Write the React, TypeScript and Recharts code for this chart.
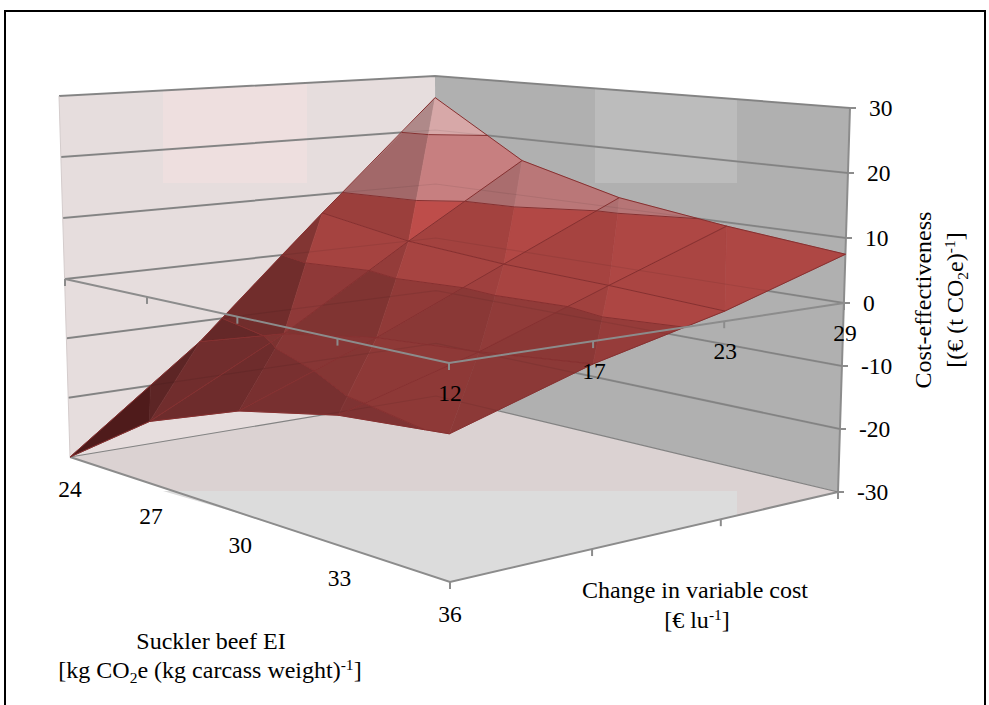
import React from 'react';
import { ScatterChart, Scatter, XAxis, YAxis } from 'recharts';

const eiTicks = [24, 27, 30, 33, 36];
const costTicks = [12, 17, 23, 29];
const zTicks = [30, 20, 10, 0, -10, -20, -30];

// cost-effectiveness per EI tick, one list per change in variable cost
const ceAtCost12 = [-30, -20, -14.4, -11.1, -9.7];
const ceAtCost17 = [-13.6, -8.9, -6.2, -5, -3.3];
const ceAtCost23 = [6.7, 4.2, 3, 2.4, 1.5];
const ceAtCost29 = [26, 16.2, 11.8, 9.4, 7.5];
const ceRows = [ceAtCost12, ceAtCost17, ceAtCost23, ceAtCost29];

const bandEdges = [-30, -20, -10, 0, 10, 20, 30];
const bandColors = [
  [118, 40, 40],
  [138, 55, 55],
  [154, 62, 60],
  [178, 72, 69],
  [186, 119, 120],
  [201, 157, 157],
];

type Pt = { x: number; y: number };
type V3 = { u: number; v: number; z: number };

// walls of the box on screen, corners in order left, front, right, back
const planeTop: Pt[] = [{ x: 59, y: 96 }, { x: 450, y: 145 }, { x: 850, y: 108 }, { x: 435, y: 76 }];
const planeZero: Pt[] = [{ x: 65, y: 279 }, { x: 449, y: 363 }, { x: 844, y: 303 }, { x: 436, y: 238 }];
const planeBottom: Pt[] = [{ x: 70, y: 457 }, { x: 450, y: 582 }, { x: 838, y: 492 }, { x: 436, y: 396 }];

const homography = (q: Pt[]) => {
  const dx1 = q[1].x - q[2].x, dx2 = q[3].x - q[2].x, dx3 = q[0].x - q[1].x + q[2].x - q[3].x;
  const dy1 = q[1].y - q[2].y, dy2 = q[3].y - q[2].y, dy3 = q[0].y - q[1].y + q[2].y - q[3].y;
  const den = dx1 * dy2 - dx2 * dy1;
  const g = (dx3 * dy2 - dx2 * dy3) / den;
  const h = (dx1 * dy3 - dx3 * dy1) / den;
  const a = q[1].x - q[0].x + g * q[1].x, b = q[3].x - q[0].x + h * q[3].x;
  const d = q[1].y - q[0].y + g * q[1].y, e = q[3].y - q[0].y + h * q[3].y;
  return (u: number, v: number): Pt => {
    const w = g * u + h * v + 1;
    return { x: (a * u + b * v + q[0].x) / w, y: (d * u + e * v + q[0].y) / w };
  };
};

const topAt = homography(planeTop);
const zeroAt = homography(planeZero);
const bottomAt = homography(planeBottom);

// u runs along the EI ticks, v along the cost ticks (both in tick steps)
const project = (u: number, v: number, z: number): Pt => {
  const uu = u / (eiTicks.length - 1);
  const vv = v / (costTicks.length - 1);
  const p0 = zeroAt(uu, vv);
  const p1 = z >= 0 ? topAt(uu, vv) : bottomAt(uu, vv);
  const t = Math.abs(z) / 30;
  return { x: p0.x + (p1.x - p0.x) * t, y: p0.y + (p1.y - p0.y) * t };
};

const mix = (a: V3, b: V3, t: number): V3 => ({
  u: a.u + (b.u - a.u) * t,
  v: a.v + (b.v - a.v) * t,
  z: a.z + (b.z - a.z) * t,
});

const clipAbove = (poly: V3[], level: number, keepAbove: boolean) => {
  const out: V3[] = [];
  poly.forEach((a, i) => {
    const b = poly[(i + 1) % poly.length];
    const aIn = keepAbove ? a.z >= level : a.z <= level;
    const bIn = keepAbove ? b.z >= level : b.z <= level;
    if (aIn) out.push(a);
    if (aIn !== bIn) out.push(mix(a, b, (level - a.z) / (b.z - a.z)));
  });
  return out;
};

const surfaceFacets: { pts: Pt[]; fill: string }[] = [];
const contourSegments: Pt[][] = [];

const vert = (i: number, j: number): V3 => ({ u: i, v: j, z: ceRows[j][i] });

const addTriangle = (tri: V3[], du: number, dv: number) => {
  const shade = 1 - 0.018 * du - 0.009 * dv;
  bandColors.forEach((c, b) => {
    let poly = clipAbove(tri, bandEdges[b], true);
    if (poly.length) poly = clipAbove(poly, bandEdges[b + 1], false);
    if (poly.length < 3) return;
    surfaceFacets.push({
      pts: poly.map((p) => project(p.u, p.v, p.z)),
      fill: `rgb(${c.map((n) => Math.min(255, Math.round(n * shade))).join(',')})`,
    });
  });
  bandEdges.slice(1, -1).forEach((level) => {
    const cross: Pt[] = [];
    tri.forEach((a, k) => {
      const b = tri[(k + 1) % 3];
      if ((a.z - level) * (b.z - level) < 0) {
        const m = mix(a, b, (level - a.z) / (b.z - a.z));
        cross.push(project(m.u, m.v, m.z));
      }
    });
    if (cross.length === 2) contourSegments.push(cross);
  });
};

for (let i = 0; i < eiTicks.length - 1; i++) {
  for (let j = costTicks.length - 2; j >= 0; j--) {
    const a = vert(i, j + 1), b = vert(i, j), c = vert(i + 1, j), d = vert(i + 1, j + 1);
    addTriangle([a, b, c], c.z - b.z, a.z - b.z);
    addTriangle([a, d, c], d.z - a.z, d.z - c.z);
  }
}

const meshLines: Pt[][] = [
  ...ceRows.map((row, j) => row.map((z, i) => project(i, j, z))),
  ...eiTicks.map((_, i) => ceRows.map((row, j) => project(i, j, row[i]))),
];

const lastI = eiTicks.length - 1;
const lastJ = costTicks.length - 1;

const wallLines = zTicks.map((z) => ({
  z,
  pts: [project(0, 0, z), project(0, lastJ, z), project(lastI, lastJ, z)],
}));

const leftWall = [project(0, 0, 30), project(0, lastJ, 30), project(0, lastJ, -30), project(0, 0, -30)];
const rightWall = [project(0, lastJ, 30), project(lastI, lastJ, 30), project(lastI, lastJ, -30), project(0, lastJ, -30)];
const floor = [project(0, 0, -30), project(lastI, 0, -30), project(lastI, lastJ, -30), project(0, lastJ, -30)];

// lighter patches that sit on the walls and the floor of the source picture
const patchLeft: Pt[] = [{ x: 163, y: 90 }, { x: 307, y: 83 }, { x: 307, y: 183 }, { x: 163, y: 183 }];
const patchRight: Pt[] = [{ x: 595, y: 88 }, { x: 737, y: 99 }, { x: 737, y: 183 }, { x: 595, y: 183 }];
const patchFloor: Pt[] = [{ x: 163, y: 491 }, { x: 737, y: 491 }, { x: 737, y: 515 }, { x: 450, y: 582 }, { x: 238, y: 513 }];

const frame: Pt[] = [{ x: 5, y: 705 }, { x: 5, y: 11 }, { x: 985, y: 11 }, { x: 985, y: 705 }];

const tickDown = (p: Pt, len: number) => [p, { x: p.x, y: p.y + len }];
const axisZero = [project(0, 0, 0), project(lastI, 0, 0), project(lastI, lastJ, 0)];
const axisTicks: Pt[][] = [
  ...eiTicks.map((_, i) => tickDown(project(i, 0, 0), 7)),
  ...costTicks.map((_, j) => tickDown(project(lastI, j, 0), 7)),
  ...costTicks.map((_, j) => tickDown(project(lastI, j, -30), 7)),
  ...zTicks.map((z) => {
    const p = project(lastI, lastJ, z);
    return [p, { x: p.x + 6, y: p.y }];
  }),
];

const tickLabels = [
  ...eiTicks.map((t, i) => {
    const p = project(i, 0, -30);
    return { x: p.x, y: p.y + 32, label: String(t), anchor: 'middle' };
  }),
  ...costTicks.map((t, j) => {
    const p = project(lastI, j, 0);
    return { x: p.x + 1, y: p.y + 30, label: String(t), anchor: 'middle' };
  }),
  ...zTicks.map((t) => {
    const p = project(lastI, lastJ, t);
    return { x: p.x + 19, y: p.y, label: String(t), anchor: 'start' };
  }),
];

const noDot = () => null;
const serif = '"Liberation Serif", serif';

const polygonLine = (fill: string, stroke?: string) => (p: any) => (
  <polygon
    points={p.points.map((q: Pt) => `${q.x},${q.y}`).join(' ')}
    fill={fill}
    stroke={stroke || 'none'}
    strokeWidth={stroke ? 0.6 : 0}
  />
);

const Poly = (pts: Pt[], fill: string, key: string, stroke?: string) => (
  <Scatter key={key} data={pts} isAnimationActive={false} shape={noDot} line={polygonLine(fill, stroke)} lineJointType="linear" />
);

const Path = (pts: Pt[], stroke: string, width: number, key: string, opacity = 1) => (
  <Scatter
    key={key}
    data={pts}
    isAnimationActive={false}
    shape={noDot}
    line={{ stroke, strokeWidth: width, strokeOpacity: opacity, fill: 'none' }}
    lineJointType="linear"
  />
);

const tickText = (p: any) => (
  <text x={p.cx} y={p.cy} dy="0.34em" textAnchor={p.payload.anchor} fontFamily={serif} fontSize={23.5} fill="#000">
    {p.payload.label}
  </text>
);

const TITLE = 24;
const SMALL = 15.5;

const titleShape = (p: any) => {
  const { id, rotate } = p.payload;
  const tf = rotate ? `rotate(-90 ${p.cx} ${p.cy})` : undefined;
  const common = { x: p.cx, y: p.cy, textAnchor: 'middle', fontFamily: serif, fontSize: TITLE, fill: '#000', transform: tf } as any;
  if (id === 'ei2') {
    return (
      <text {...common}>
        [kg CO<tspan dy={5} fontSize={SMALL}>2</tspan><tspan dy={-5}>e (kg carcass weight)</tspan>
        <tspan dy={-8} fontSize={SMALL}>-1</tspan><tspan dy={8}>]</tspan>
      </text>
    );
  }
  if (id === 'cost2') {
    return (
      <text {...common}>
        [€ lu<tspan dy={-8} fontSize={SMALL}>-1</tspan><tspan dy={8}>]</tspan>
      </text>
    );
  }
  if (id === 'ce2') {
    return (
      <text {...common}>
        [(€ (t CO<tspan dy={5} fontSize={SMALL}>2</tspan><tspan dy={-5}>e)</tspan>
        <tspan dy={-8} fontSize={SMALL}>-1</tspan><tspan dy={8}>]</tspan>
      </text>
    );
  }
  return <text {...common}>{p.payload.text}</text>;
};

const titles = [
  { x: 211, y: 649, id: 'ei1', text: 'Suckler beef EI' },
  { x: 210, y: 678, id: 'ei2' },
  { x: 695, y: 598, id: 'cost1', text: 'Change in variable cost' },
  { x: 697, y: 628, id: 'cost2' },
  { x: 931, y: 300, id: 'ce1', text: 'Cost-effectiveness', rotate: true },
  { x: 963, y: 300, id: 'ce2', rotate: true },
];

const App = () => (
  <div style={{ position: 'absolute', left: 0, top: 0, width: 989, height: 705, background: '#fff' }}>
    <ScatterChart width={989} height={705} margin={{ top: 0, right: 0, bottom: 0, left: 0 }}>
      <XAxis type="number" dataKey="x" domain={[0, 989]} hide />
      <YAxis type="number" dataKey="y" domain={[0, 705]} reversed hide />

      {Path(frame, '#000', 2, 'frame')}

      {Poly(leftWall, '#e6dddd', 'wall-left')}
      {Poly(rightWall, '#b0b0b0', 'wall-right')}
      {Poly(floor, '#dbd2d2', 'floor')}
      {Poly(patchLeft, '#eedfdf', 'patch-left')}
      {Poly(patchRight, '#bcbcbc', 'patch-right')}
      {Poly(patchFloor, '#dcdcdc', 'patch-floor')}

      {wallLines.map((w) => Path(w.pts, '#8c8c8c', w.z === -30 ? 1.2 : 2, `wall-${w.z}`))}
      {Path([project(lastI, lastJ, 30), project(lastI, lastJ, -30)], '#8c8c8c', 2, 'z-axis')}
      {Path([project(0, 0, 30), project(0, 0, -30)], '#d4cccc', 1, 'z-left')}
      {Path([project(0, 0, -30), project(lastI, 0, -30), project(lastI, lastJ, -30)], '#8c8c8c', 2, 'floor-edge')}

      {surfaceFacets.map((f, k) => Poly(f.pts, f.fill, `facet-${k}`, f.fill))}

      {wallLines.map((w) => Path(w.pts, '#000', 1.2, `wall-through-${w.z}`, 0.07))}
      {contourSegments.map((s, k) => Path(s, '#863030', 1, `contour-${k}`))}
      {meshLines.map((s, k) => Path(s, '#863030', 1, `mesh-${k}`))}

      {Path(axisZero, '#8c8c8c', 2, 'axis-zero')}
      {axisTicks.map((s, k) => Path(s, '#8c8c8c', 2, `tick-${k}`))}

      <Scatter data={tickLabels} isAnimationActive={false} shape={tickText} />
      <Scatter data={titles} isAnimationActive={false} shape={titleShape} />
    </ScatterChart>
  </div>
);

export default App;
